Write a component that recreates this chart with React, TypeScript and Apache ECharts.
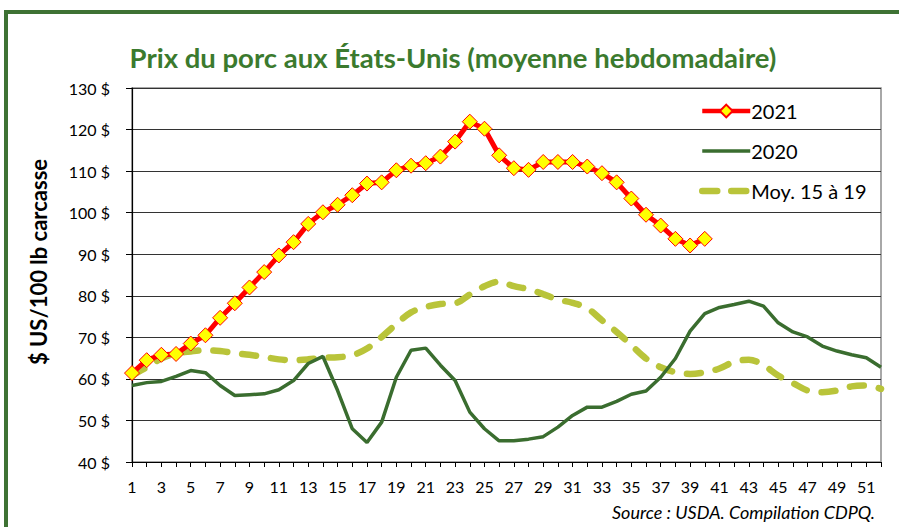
import React, { useEffect, useRef } from "react";
import * as echarts from "echarts";

const weeks: string[] = Array.from({ length: 52 }, (_, i) => String(i + 1));

const y2021: number[] = [
  61.4, 64.5, 65.8, 66.0, 68.5, 70.5, 74.7, 78.2, 82.0, 85.7,
  89.7, 92.9, 97.3, 100.1, 101.9, 104.2, 107.0, 107.3, 110.2, 111.3,
  111.9, 113.5, 117.1, 121.9, 120.2, 113.8, 110.7, 110.3, 112.2, 112.2,
  112.2, 111.1, 109.5, 107.3, 103.4, 99.5, 96.9, 93.7, 92.1, 93.7,
];

const y2020: number[] = [
  58.4, 59.1, 59.4, 60.6, 62.0, 61.5, 58.4, 56.0, 56.2, 56.4,
  57.4, 59.6, 63.7, 65.4, 57.2, 48.0, 44.7, 49.6, 60.4, 66.9,
  67.4, 63.3, 59.6, 52.0, 48.0, 45.1, 45.1, 45.5, 46.1, 48.4,
  51.2, 53.2, 53.2, 54.6, 56.3, 57.1, 60.4, 64.9, 71.5, 75.7,
  77.2, 77.9, 78.7, 77.5, 73.5, 71.3, 70.1, 67.9, 66.7, 65.8,
  65.1, 62.8,
];

const yAvg: number[] = [
  60.8, 62.8, 64.9, 66.1, 66.6, 66.9, 66.7, 66.2, 65.8, 65.3,
  64.7, 64.5, 64.7, 65.1, 65.2, 65.7, 67.3, 70.1, 73.2, 76.0,
  77.3, 78.0, 78.2, 80.3, 82.3, 83.4, 82.3, 81.6, 80.4, 79.1,
  78.3, 77.0, 74.1, 71.3, 68.1, 64.9, 62.8, 61.6, 61.2, 61.6,
  62.5, 64.1, 64.6, 63.3, 60.8, 59.0, 57.2, 56.8, 57.2, 58.2,
  58.4, 57.6,
];

const seriesNames = ["2021", "2020", "Moy. 15 à 19"];
const titleText = "Prix du porc aux États-Unis (moyenne hebdomadaire)";
const yAxisTitle = "$ US/100 lb carcasse";
const sourceText = "Source : USDA. Compilation CDPQ.";

const FONT = "Lato, 'Open Sans', sans-serif";
const FRAME_GREEN = "#3e7234";
const RED = "#ff0000";
const GREEN = "#3a6d2f";
const OLIVE = "#b9c43a";

export default function App() {
  const ref = useRef<HTMLDivElement>(null);
  useEffect(() => {
    if (!ref.current) return;
    const chart = echarts.init(ref.current, undefined, { renderer: "svg" });
    chart.setOption({
      animation: false,
      backgroundColor: "#ffffff",
      textStyle: { fontFamily: FONT },
      grid: {
        left: 132,
        top: 88,
        right: 18,
        bottom: 65,
        show: true,
        borderColor: "#8c8c8c",
        borderWidth: 1.5,
        backgroundColor: "transparent",
      },
      legend: {
        orient: "vertical",
        left: 694,
        top: 96,
        itemWidth: 48,
        itemHeight: 16,
        itemGap: 20,
        data: [
          { name: seriesNames[0], lineStyle: { width: 4.5, color: RED } },
          { name: seriesNames[1], itemStyle: { opacity: 0 }, lineStyle: { width: 3.5, color: GREEN } },
          {
            name: seriesNames[2],
            itemStyle: { opacity: 0 },
            lineStyle: { width: 6.5, color: OLIVE, type: [15, 14], cap: "round" },
          },
        ],
        textStyle: { fontSize: 20, color: "#000", fontFamily: FONT, padding: [0, 0, 0, -4] },
      },
      xAxis: {
        type: "category",
        data: weeks,
        boundaryGap: false,
        axisLine: { lineStyle: { color: "#000", width: 1.2 } },
        axisTick: { show: true, interval: 0, length: 5, lineStyle: { color: "#000" } },
        axisLabel: { interval: 1, fontSize: 16, color: "#000", margin: 16, fontFamily: FONT },
        splitLine: { show: false },
      },
      yAxis: {
        type: "value",
        min: 40,
        max: 130,
        interval: 10,
        axisLine: { show: true, lineStyle: { color: "#000", width: 1.2 } },
        axisTick: { show: true, length: 6, lineStyle: { color: "#000" } },
        axisLabel: {
          formatter: "{value} $",
          fontSize: 16,
          color: "#000",
          margin: 22,
          fontFamily: FONT,
        },
        splitLine: { show: true, lineStyle: { color: "#333", width: 1.2 } },
      },
      series: [
        {
          name: seriesNames[2],
          type: "line",
          data: yAvg,
          smooth: 0.35,
          showSymbol: false,
          symbol: "none",
          z: 2,
          itemStyle: { color: OLIVE },
          lineStyle: { color: OLIVE, width: 6.5, type: [14, 15], cap: "round" },
        },
        {
          name: seriesNames[1],
          type: "line",
          data: y2020,
          symbol: "none",
          z: 3,
          itemStyle: { color: GREEN },
          lineStyle: { color: GREEN, width: 3.5 },
        },
        {
          name: seriesNames[0],
          type: "line",
          data: y2021,
          symbol: "diamond",
          symbolSize: 15,
          showAllSymbol: true,
          z: 4,
          itemStyle: { color: "#ffff00", borderColor: RED, borderWidth: 1 },
          lineStyle: { color: RED, width: 5 },
        },
      ],
      graphic: [
        { type: "rect", shape: { x: 4, y: 10, width: 4, height: 517 }, style: { fill: FRAME_GREEN }, silent: true },
        { type: "rect", shape: { x: 4, y: 10, width: 895, height: 4 }, style: { fill: FRAME_GREEN }, silent: true },
        {
          type: "text",
          x: 453,
          y: 57,
          style: {
            text: titleText,
            fill: "#3b7a2e",
            font: `bold 27.5px ${FONT}`,
            textAlign: "center",
            textVerticalAlign: "middle",
          },
        },
        {
          type: "text",
          x: 38,
          y: 262,
          rotation: Math.PI / 2,
          style: {
            text: yAxisTitle,
            fill: "#000",
            font: `bold 22px ${FONT}`,
            textAlign: "center",
            textVerticalAlign: "middle",
          },
        },
        {
          type: "text",
          x: 875,
          y: 512,
          style: {
            text: sourceText,
            fill: "#000",
            font: `italic 18px ${FONT}`,
            textAlign: "right",
            textVerticalAlign: "middle",
          },
        },
      ],
    });
    return () => chart.dispose();
  }, []);
  return (
    <div
      ref={ref}
      style={{ position: "absolute", left: 0, top: 0, width: 899, height: 527 }}
    />
  );
}
